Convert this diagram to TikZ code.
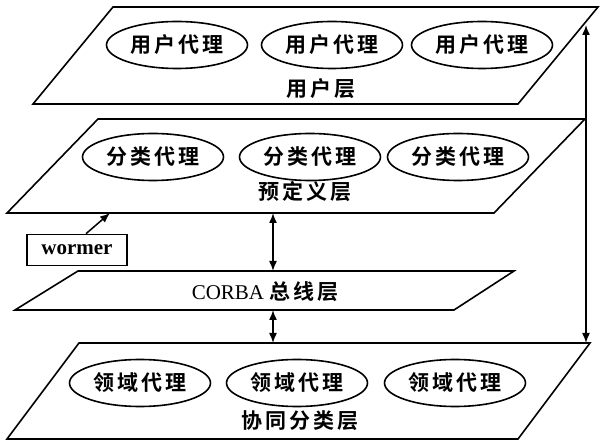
\documentclass[tikz,border=0pt]{standalone}
\usepackage{fontspec}
\setmainfont{Liberation Serif}
\newfontfamily\cjk[LetterSpace=14,BoldFont={* Bold}]{Noto Sans CJK SC}
\usetikzlibrary{shapes.geometric,arrows.meta}
\tikzset{
  layer/.style={draw, line width=1.6pt, line join=miter, fill=white},
  agent/.style={draw, ellipse, line width=1.6pt, minimum width=141pt, minimum height=47pt, inner sep=0pt,
    font=\fontsize{21}{21}\selectfont\cjk\bfseries},
  lbl/.style={inner sep=0pt, font=\fontsize{21}{21}\selectfont\cjk\bfseries},
  conn/.style={line width=1.5pt, {Latex[length=10pt,width=8pt]}-{Latex[length=10pt,width=8pt]}},
  oneway/.style={line width=1.5pt, -{Latex[length=10pt,width=8pt]}},
  wbox/.style={draw, line width=1.6pt, minimum width=100pt, minimum height=31pt, inner sep=0pt,
    font=\fontsize{21}{21}\selectfont\bfseries}
}
\begin{document}
\begin{tikzpicture}[x=1pt,y=-1pt]
\useasboundingbox (0,0) rectangle (603,443);
% user layer
\coordinate (u1) at (113,7); \coordinate (u2) at (598,7);
\coordinate (u3) at (518,104); \coordinate (u4) at (33,104);
\draw[layer] (u1) -- (u2) -- (u3) -- (u4) -- cycle;
\node[agent] (ua1) at (177,45) {用户代理};
\node[agent] (ua2) at (332,45) {用户代理};
\node[agent] (ua3) at (482,45) {用户代理};
\node[lbl] (ul) at (321,89) {用户层};
% predefined layer
\coordinate (p1) at (98,119); \coordinate (p2) at (585,119);
\coordinate (p3) at (494,213); \coordinate (p4) at (7,213);
\draw[layer] (p1) -- (p2) -- (p3) -- (p4) -- cycle;
\node[agent] (pa1) at (153,157) {分类代理};
\node[agent] (pa2) at (310,157) {分类代理};
\node[agent] (pa3) at (458,157) {分类代理};
\node[lbl] (pl) at (305,192) {预定义层};
% CORBA layer
\coordinate (c1) at (78,271); \coordinate (c2) at (514,271);
\coordinate (c3) at (454,310); \coordinate (c4) at (15,310);
\draw[layer] (c1) -- (c2) -- (c3) -- (c4) -- cycle;
\node[inner sep=0pt] (cl) at (265,292) {\fontsize{21}{21}\selectfont CORBA {\cjk\bfseries 总线层}};
% bottom layer
\coordinate (b1) at (79,343); \coordinate (b2) at (590,343);
\coordinate (b3) at (518,439); \coordinate (b4) at (7,439);
\draw[layer] (b1) -- (b2) -- (b3) -- (b4) -- cycle;
\node[agent] (ba1) at (140,383) {领域代理};
\node[agent] (ba2) at (297,383) {领域代理};
\node[agent] (ba3) at (455,383) {领域代理};
\node[lbl] (bl) at (300,421) {协同分类层};
% wormer
\node[wbox] (wormer) at (77,250) {wormer};
\coordinate (wtip) at (110,213);
\draw[oneway] ([xshift=9pt]wormer.north) -- (wtip);
% connectors
\coordinate (pb) at (273,213); \coordinate (ct) at (273,271);
\coordinate (cb) at (273,310); \coordinate (bt) at (273,343);
\draw[conn] (pb) -- (ct);
\draw[conn] (cb) -- (bt);
\coordinate (rt) at (586,25); \coordinate (rb) at (586,343);
\draw[conn] (rt) -- (rb);
\end{tikzpicture}
\end{document}
